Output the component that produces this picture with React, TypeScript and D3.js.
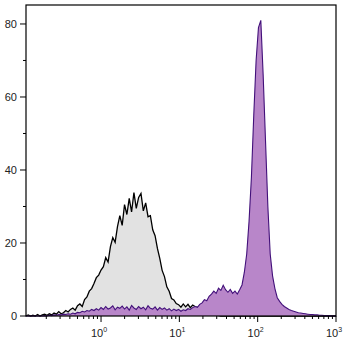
import React, { useEffect, useRef } from 'react';
import * as d3 from 'd3';

// log10 channel positions of the histogram bins
const binLog = [
  -0.96, -0.93, -0.90, -0.87, -0.84, -0.81, -0.78, -0.75, -0.72, -0.69,
  -0.66, -0.63, -0.60, -0.57, -0.54, -0.51, -0.48, -0.45, -0.42, -0.39,
  -0.36, -0.33, -0.30, -0.27, -0.24, -0.21, -0.18, -0.15, -0.12, -0.09,
  -0.06, -0.03, 0.00, 0.03, 0.06, 0.09, 0.12, 0.15, 0.18, 0.21,
  0.24, 0.27, 0.30, 0.33, 0.36, 0.39, 0.42, 0.45, 0.48, 0.51,
  0.54, 0.57, 0.60, 0.63, 0.66, 0.69, 0.72, 0.75, 0.78, 0.81,
  0.84, 0.87, 0.90, 0.93, 0.96, 0.99, 1.02, 1.05, 1.08, 1.11,
  1.14, 1.17, 1.20, 1.23, 1.26, 1.29, 1.32, 1.35, 1.38, 1.41,
  1.44, 1.47, 1.50, 1.53, 1.56, 1.59, 1.62, 1.65, 1.68, 1.71,
  1.74, 1.77, 1.80, 1.83, 1.86, 1.89, 1.92, 1.95, 1.98, 2.01,
  2.04, 2.07, 2.10, 2.13, 2.16, 2.19, 2.22, 2.25, 2.28, 2.31,
  2.34, 2.37, 2.40, 2.43, 2.46, 2.49, 2.52, 2.55, 2.58, 2.61,
  2.64, 2.67, 2.70, 2.73, 2.76, 2.79, 2.82, 2.85, 2.88, 2.91,
  2.94, 2.97, 3.00,
];

// isotype control (gray, black outline)
const controlCounts = [
  0, 0.3, 0, 0.2, 0, 0.4, 0, 0.3, 0.5, 0.2,
  0.6, 0.3, 0.8, 0.5, 1.2, 0.6, 0.9, 1.5, 1.1, 1.8,
  2.2, 1.6, 2.8, 3.3, 2.6, 4.5, 5.2, 6.8, 7.5, 8.9,
  10.5, 11.2, 12.6, 13.5, 16, 14.8, 19, 21.5, 20.2, 24.5,
  27.5, 24.8, 30.5, 27.8, 32.2, 28.5, 33.8, 29.5, 32.5, 33.6,
  28.8, 31, 27.2, 27.5, 23.6, 22, 18.5, 15.8, 12.5, 10.8,
  8, 6.8, 4.8, 4.4, 3.4, 3.1, 2.4, 3.3, 2.5, 3.2,
  2.3, 3, 2.6, 2.3, 2.7, 1.8, 1.3, 0.9, 0.6, 0.4,
  0.3, 0.2, 0.1, 0, 0, 0, 0, 0, 0, 0,
  0, 0, 0, 0, 0, 0, 0, 0, 0, 0,
  0, 0, 0, 0, 0, 0, 0, 0, 0, 0,
  0, 0, 0, 0, 0, 0, 0, 0, 0, 0,
  0, 0, 0, 0, 0, 0, 0, 0, 0, 0,
  0, 0, 0,
];

// stained sample (purple)
const stainedCounts = [
  0, 0, 0, 0, 0, 0, 0, 0, 0.1, 0,
  0.2, 0.1, 0.3, 0.2, 0.4, 0.3, 0.5, 0.4, 0.6, 0.5,
  0.8, 0.6, 1.0, 0.9, 1.3, 1.1, 1.5, 1.3, 1.8, 1.5,
  2.0, 1.6, 2.3, 1.8, 2.6, 1.9, 2.2, 2.8, 1.7, 2.4,
  2.1, 2.7, 1.9, 2.5, 1.6, 2.9, 2.2, 1.8, 2.6, 2.0,
  2.4, 1.7, 2.8, 2.1, 1.9, 2.5, 1.6, 2.3, 1.8, 2.2,
  1.6, 2.0, 1.4, 1.9, 1.5, 1.8, 1.3, 1.7, 1.5, 2.0,
  1.8, 2.3, 2.6, 2.4, 3.2, 3.6, 4.5, 4.2, 5.4, 6.0,
  6.8, 6.2, 7.6, 7.0, 8.4, 7.2, 6.5, 7.3, 6.2, 6.8,
  6.0, 7.2, 8.5, 12, 17, 26, 38, 55, 70, 79,
  81, 66, 48, 30, 17, 11, 7.5, 5, 4, 3.2,
  2.6, 2.2, 1.8, 1.5, 1.3, 1.1, 0.9, 0.8, 0.7, 0.6,
  0.5, 0.4, 0.4, 0.3, 0.3, 0.2, 0.2, 0.1, 0.1, 0.1,
  0, 0, 0,
];

const yTicks = [0, 20, 40, 60, 80];
const yMinorTicks = [10, 30, 50, 70];
const xDecades = [0, 1, 2, 3];

const App: React.FC = () => {
  const svgRef = useRef<SVGSVGElement>(null);

  useEffect(() => {
    if (!svgRef.current) return;
    const svg = d3.select(svgRef.current);
    svg.selectAll("*").remove();

    const left = 26, right = 336, top = 5, bottom = 316;

    const x = d3.scaleLog()
      .domain([Math.pow(10, -0.958), 1000])
      .range([left, right]);
    const y = d3.scaleLinear()
      .domain([0, 85.2])
      .range([bottom, top]);

    const area = d3.area<number>()
      .x((d, i) => x(Math.pow(10, binLog[i])))
      .y0(bottom)
      .y1(d => y(d));
    const line = d3.line<number>()
      .x((d, i) => x(Math.pow(10, binLog[i])))
      .y(d => y(d));

    svg.append("path")
      .attr("d", area(controlCounts))
      .attr("fill", "#e2e2e2");
    svg.append("path")
      .attr("d", line(controlCounts))
      .attr("fill", "none")
      .attr("stroke", "#000")
      .attr("stroke-width", 1.3);

    svg.append("path")
      .attr("d", area(stainedCounts))
      .attr("fill", "#b886c9");
    svg.append("path")
      .attr("d", line(stainedCounts))
      .attr("fill", "none")
      .attr("stroke", "#42107a")
      .attr("stroke-width", 1.1);

    // frame
    svg.append("rect")
      .attr("x", left)
      .attr("y", top)
      .attr("width", right - left)
      .attr("height", bottom - top)
      .attr("fill", "none")
      .attr("stroke", "#000")
      .attr("stroke-width", 1.2);

    const font = "'Liberation Sans', Arial, sans-serif";

    // y axis
    svg.selectAll(".ymaj")
      .data(yTicks)
      .join("line")
      .attr("x1", left - 6)
      .attr("x2", left)
      .attr("y1", d => y(d))
      .attr("y2", d => y(d))
      .attr("stroke", "#000");
    svg.selectAll(".ymin")
      .data(yMinorTicks)
      .join("line")
      .attr("x1", left - 3)
      .attr("x2", left)
      .attr("y1", d => y(d))
      .attr("y2", d => y(d))
      .attr("stroke", "#000");
    svg.selectAll(".ylab")
      .data(yTicks)
      .join("text")
      .attr("x", left - 9)
      .attr("y", d => y(d) + 4)
      .attr("text-anchor", "end")
      .attr("font-family", font)
      .attr("font-size", "11px")
      .attr("fill", "#222")
      .text(d => d);

    // x axis
    const minor: number[] = [];
    [-1, 0, 1, 2].forEach(e => {
      for (let k = 2; k <= 9; k++) {
        const v = k * Math.pow(10, e);
        if (v >= x.domain()[0] && v <= 1000) minor.push(v);
      }
    });
    svg.selectAll(".xmin")
      .data(minor)
      .join("line")
      .attr("x1", d => x(d))
      .attr("x2", d => x(d))
      .attr("y1", bottom)
      .attr("y2", bottom + 3)
      .attr("stroke", "#000");
    svg.selectAll(".xmaj")
      .data(xDecades)
      .join("line")
      .attr("x1", d => x(Math.pow(10, d)))
      .attr("x2", d => x(Math.pow(10, d)))
      .attr("y1", bottom)
      .attr("y2", bottom + 6)
      .attr("stroke", "#000");
    const xl = svg.selectAll(".xlab")
      .data(xDecades)
      .join("text")
      .attr("x", d => x(Math.pow(10, d)) - 2)
      .attr("y", 337)
      .attr("text-anchor", "middle")
      .attr("font-family", font)
      .attr("font-size", "11px")
      .attr("fill", "#222");
    xl.append("tspan").text("10");
    xl.append("tspan")
      .attr("dy", -5)
      .attr("font-size", "7px")
      .text(d => d);
  }, []);

  return (
    <svg
      ref={svgRef}
      width={350}
      height={347}
      style={{ position: 'absolute', left: 0, top: 0, background: '#fff' }}
    />
  );
};

export default App;
